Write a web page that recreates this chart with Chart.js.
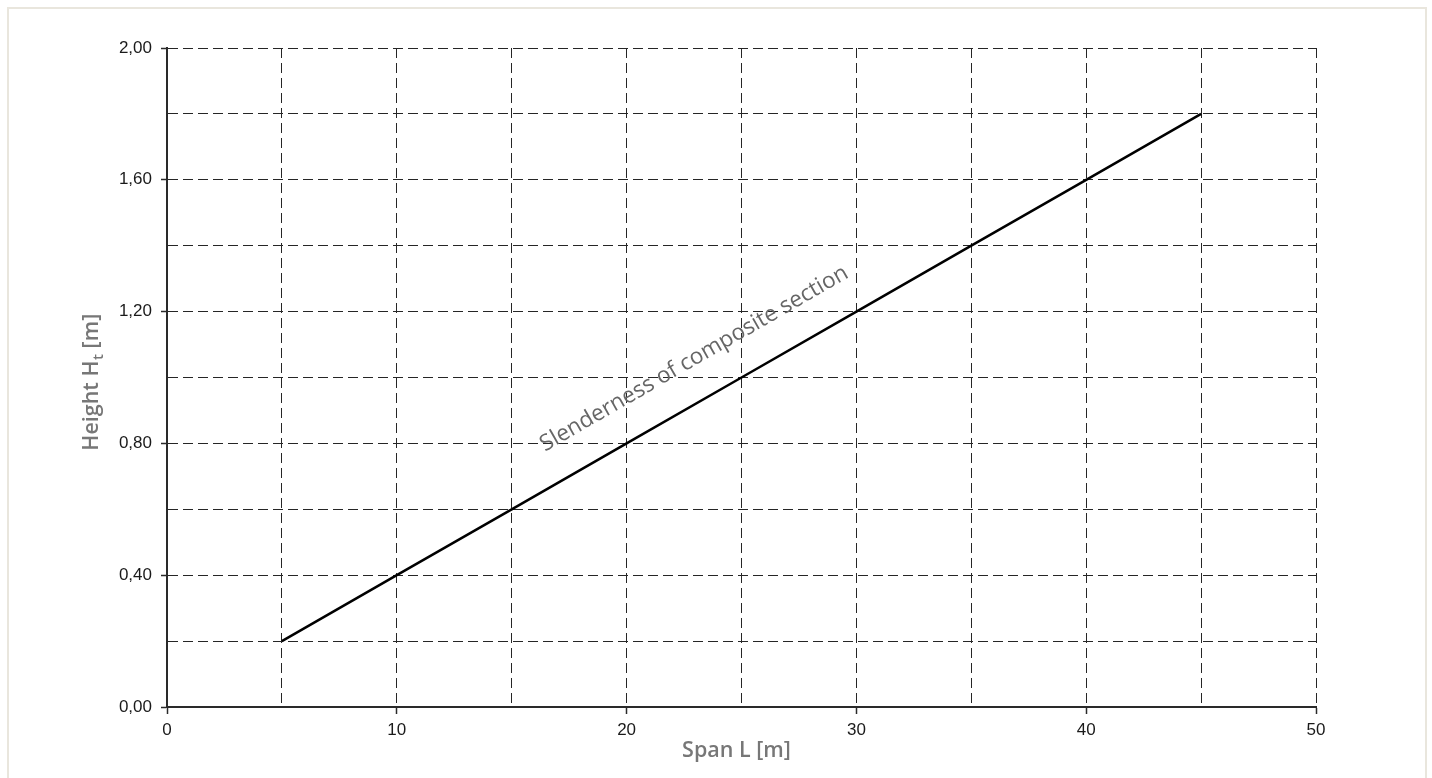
<!DOCTYPE html>
<html>
<head>
<meta charset="utf-8">
<script src="https://cdn.jsdelivr.net/npm/chart.js@4.4.0/dist/chart.umd.min.js"></script>
<style>
  html, body { margin: 0; padding: 0; background: #ffffff; }
  #wrap { position: relative; width: 1432px; height: 778px; overflow: hidden; }
  #frame { position: absolute; left: 7px; top: 7px; width: 1420px; height: 800px;
           border: 2px solid #e9e6dd; box-sizing: border-box; pointer-events: none; }
  canvas { position: absolute; left: 0; top: 0; }
</style>
</head>
<body>
<div id="wrap">
  <div id="frame"></div>
  <canvas id="c" width="1432" height="778"></canvas>
</div>
<script>
// ---- data ----
const spanL = [5, 10, 15, 20, 25, 30, 35, 40, 45];
const heightHt = [0.20, 0.40, 0.60, 0.80, 1.00, 1.20, 1.40, 1.60, 1.80];
const xTickLabels = ['0', '10', '20', '30', '40', '50'];
const yTickLabels = ['0,00', '0,40', '0,80', '1,20', '1,60', '2,00'];
const seriesLabel = 'Slenderness of composite section';
const xTitle = 'Span L [m]';
const yTitleMain = 'Height H';
const yTitleSub = 't';
const yTitleEnd = ' [m]';
const labelAnchor = { x: 16.45, y: 0.775 };

const points = spanL.map((x, i) => ({ x: x, y: heightHt[i] }));

const gridColor = '#262626';
const axisColor = '#2a2a2a';

const textPlugin = {
  id: 'texts',
  afterDraw(chart) {
    const ctx = chart.ctx;
    const ca = chart.chartArea;
    const xs = chart.scales.x, ys = chart.scales.y;
    // along-line annotation
    const p0x = xs.getPixelForValue(spanL[0]), p0y = ys.getPixelForValue(heightHt[0]);
    const n = spanL.length - 1;
    const p1x = xs.getPixelForValue(spanL[n]), p1y = ys.getPixelForValue(heightHt[n]);
    const ang = Math.atan2(p1y - p0y, p1x - p0x);
    ctx.save();
    ctx.translate(xs.getPixelForValue(labelAnchor.x), ys.getPixelForValue(labelAnchor.y));
    ctx.rotate(ang);
    ctx.font = '400 22.5px "Open Sans"';
    ctx.fillStyle = '#666666';
    ctx.textAlign = 'left';
    ctx.textBaseline = 'alphabetic';
    ctx.fillText(seriesLabel, 0, 0);
    ctx.restore();

    // x title
    ctx.save();
    ctx.font = '600 21.5px "Open Sans"';
    ctx.fillStyle = '#777777';
    ctx.textAlign = 'center';
    ctx.textBaseline = 'alphabetic';
    ctx.fillText(xTitle, (ca.left + ca.right) / 2 - 5, ca.bottom + 50);
    ctx.restore();

    // y title with subscript
    ctx.save();
    const mainFont = '600 21.5px "Open Sans"';
    const subFont = '600 15px "Open Sans"';
    ctx.font = mainFont;
    const w1 = ctx.measureText(yTitleMain).width;
    const w3 = ctx.measureText(yTitleEnd).width;
    ctx.font = subFont;
    const w2 = ctx.measureText(yTitleSub).width;
    const total = w1 + w2 + w3;
    ctx.translate(98, (ca.top + ca.bottom) / 2 + 5);
    ctx.rotate(-Math.PI / 2);
    ctx.fillStyle = '#777777';
    ctx.textAlign = 'left';
    ctx.textBaseline = 'alphabetic';
    let x0 = -total / 2;
    ctx.font = mainFont;
    ctx.fillText(yTitleMain, x0, 0);
    ctx.font = subFont;
    ctx.fillText(yTitleSub, x0 + w1 + 0.5, 5);
    ctx.font = mainFont;
    ctx.fillText(yTitleEnd, x0 + w1 + w2 + 0.5, 0);
    ctx.restore();
  }
};

new Chart(document.getElementById('c'), {
  type: 'line',
  data: {
    datasets: [{
      label: seriesLabel,
      data: points,
      borderColor: '#000000',
      borderWidth: 2.5,
      pointRadius: 0,
      tension: 0,
      fill: false
    }]
  },
  options: {
    responsive: false,
    animation: false,
    devicePixelRatio: 1,
    layout: { padding: { left: 0, top: 48, right: 116, bottom: 0 } },
    plugins: { legend: { display: false }, tooltip: { enabled: false } },
    scales: {
      x: {
        type: 'linear',
        min: 0, max: 50,
        afterFit(s) { s.height = 71; },
        ticks: {
          stepSize: 5,
          autoSkip: false,
          maxRotation: 0,
          padding: 6,
          color: '#1a1a1a',
          font: { family: '"Liberation Sans", Arial, sans-serif', size: 17 },
          callback(v, i) { return i % 2 === 0 ? xTickLabels[i / 2] : ''; }
        },
        grid: {
          color: gridColor,
          lineWidth: 1,
          drawTicks: true,
          tickLength: 7,
          tickWidth: 1.5,
          tickColor(ctx) { return ctx.index % 2 === 0 ? axisColor : 'rgba(0,0,0,0)'; }
        },
        border: { display: true, color: axisColor, width: 2, dash: [10, 5] }
      },
      y: {
        type: 'linear',
        min: 0, max: 2,
        afterFit(s) { s.width = 167; },
        ticks: {
          stepSize: 0.2,
          autoSkip: false,
          padding: 9,
          color: '#1a1a1a',
          font: { family: '"Liberation Sans", Arial, sans-serif', size: 17 },
          callback(v, i) { return i % 2 === 0 ? yTickLabels[i / 2] : ''; }
        },
        grid: {
          color: gridColor,
          lineWidth: 1,
          drawTicks: true,
          tickLength: 6,
          tickWidth: 1.5,
          tickColor(ctx) { return ctx.index % 2 === 0 ? axisColor : 'rgba(0,0,0,0)'; }
        },
        border: { display: true, color: axisColor, width: 2, dash: [10, 5] }
      }
    }
  },
  plugins: [textPlugin]
});
</script>
</body>
</html>
